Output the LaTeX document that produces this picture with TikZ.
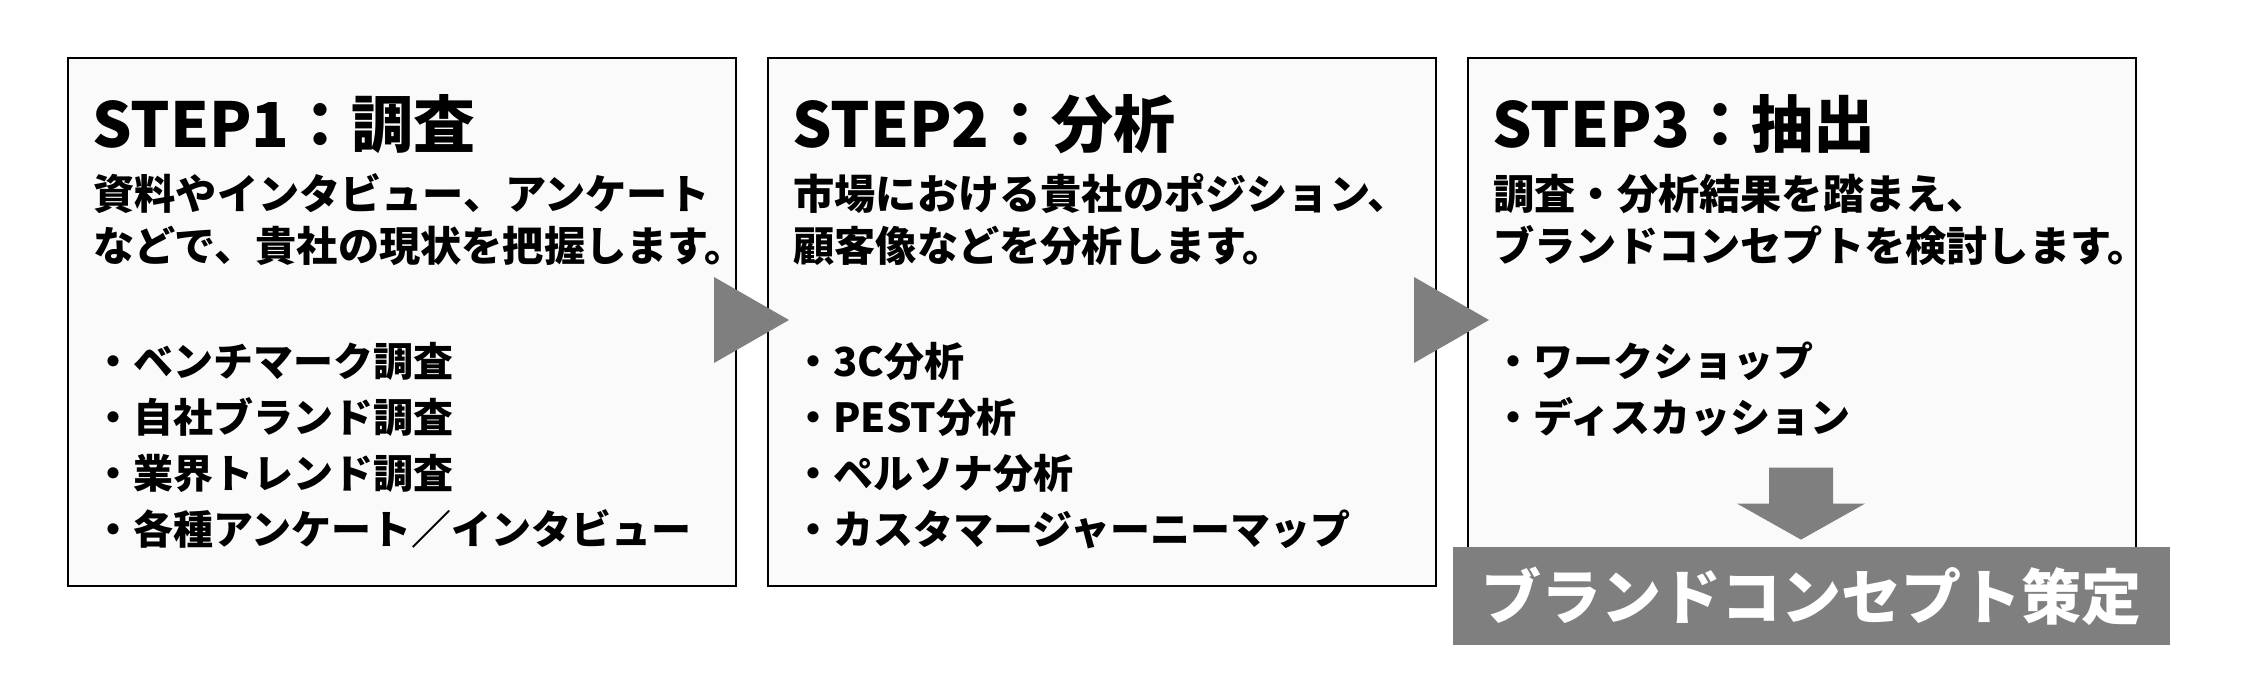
\documentclass[tikz,border=0pt]{standalone}
\usepackage{fontspec}
\setmainfont{Noto Sans CJK JP}
\usetikzlibrary{positioning}
\definecolor{boxfill}{RGB}{250,250,250}
\definecolor{markgray}{RGB}{127,127,127}

\begin{document}
\begin{tikzpicture}[
  x=0.5pt, y=-0.5pt,
  node distance=16pt,
  box/.style={
    rectangle, draw, line width=1.4pt, fill=boxfill,
    minimum width=334pt, minimum height=264pt,
    inner sep=0pt, outer sep=0pt
  },
  title/.style={anchor=base west, inner sep=0pt, font=\bfseries\fontsize{31pt}{38pt}\selectfont},
  desc/.style={anchor=base west, inner sep=0pt, align=left, font=\bfseries\fontsize{20.6pt}{26pt}\selectfont},
  items/.style={anchor=base west, inner sep=0pt, align=left, font=\bfseries\fontsize{20pt}{28pt}\selectfont},
  tri/.style={fill=markgray}
]
  \useasboundingbox[fill=white] (0,0) rectangle (2244,696);

  % Step boxes
  \node[box] (s1) at (402,322) {};
  \node[box, right=of s1] (s2) {};
  \node[box, right=of s2] (s3) {};

  % Step 1 (multi-line nodes sit on their last line)
  \node[title] (t1) at ([xshift=12pt, yshift=-44.5pt]s1.north west) {STEP1：調査};
  \node[desc] (d1) at ([xshift=12.5pt, yshift=-101.5pt]s1.north west) {資料やインタビュー、アンケート\\などで、貴社の現状を把握します。};
  \node[items] (l1) at ([xshift=12.5pt, yshift=-243pt]s1.north west) {・ベンチマーク調査\\・自社ブランド調査\\・業界トレンド調査\\・各種アンケート／インタビュー};

  % Step 2
  \node[title] (t2) at ([xshift=12pt, yshift=-44.5pt]s2.north west) {STEP2：分析};
  \node[desc] (d2) at ([xshift=12.5pt, yshift=-101.5pt]s2.north west) {市場における貴社のポジション、\\顧客像などを分析します。};
  \node[items] (l2) at ([xshift=12.5pt, yshift=-243pt]s2.north west) {・3C分析\\・PEST分析\\・ペルソナ分析\\・カスタマージャーニーマップ};

  % Step 3
  \node[title] (t3) at ([xshift=12pt, yshift=-44.5pt]s3.north west) {STEP3：抽出};
  \node[desc] (d3) at ([xshift=12.5pt, yshift=-101.5pt]s3.north west) {調査・分析結果を踏まえ、\\ブランドコンセプトを検討します。};
  \node[items] (l3) at ([xshift=12.5pt, yshift=-187pt]s3.north west) {・ワークショップ\\・ディスカッション};

  % Result
  \node[fill=markgray, text=white, font=\bfseries\fontsize{30pt}{36pt}\selectfont,
    minimum width=358.5pt, minimum height=49pt, inner sep=0pt]
    (c) at ([xshift=4.5pt, yshift=-5pt]s3.south) {ブランドコンセプト策定};

  % Flow arrows
  \fill[tri] ([xshift=-11pt, yshift=22.5pt]s1.east) -- ([xshift=-11pt, yshift=-20.5pt]s1.east) -- ([xshift=10.5pt, yshift=1pt]s2.west) -- cycle;
  \fill[tri] ([xshift=-11pt, yshift=22.5pt]s2.east) -- ([xshift=-11pt, yshift=-20.5pt]s2.east) -- ([xshift=10.5pt, yshift=1pt]s3.west) -- cycle;
  \coordinate (tip) at ([xshift=-5pt, yshift=3.5pt]c.north);
  \fill[tri] (tip) -- ++(-64,-36) -- ++(32,0) -- ++(0,-36) -- ++(64,0) -- ++(0,36) -- ++(32,0) -- cycle;
\end{tikzpicture}
\end{document}
